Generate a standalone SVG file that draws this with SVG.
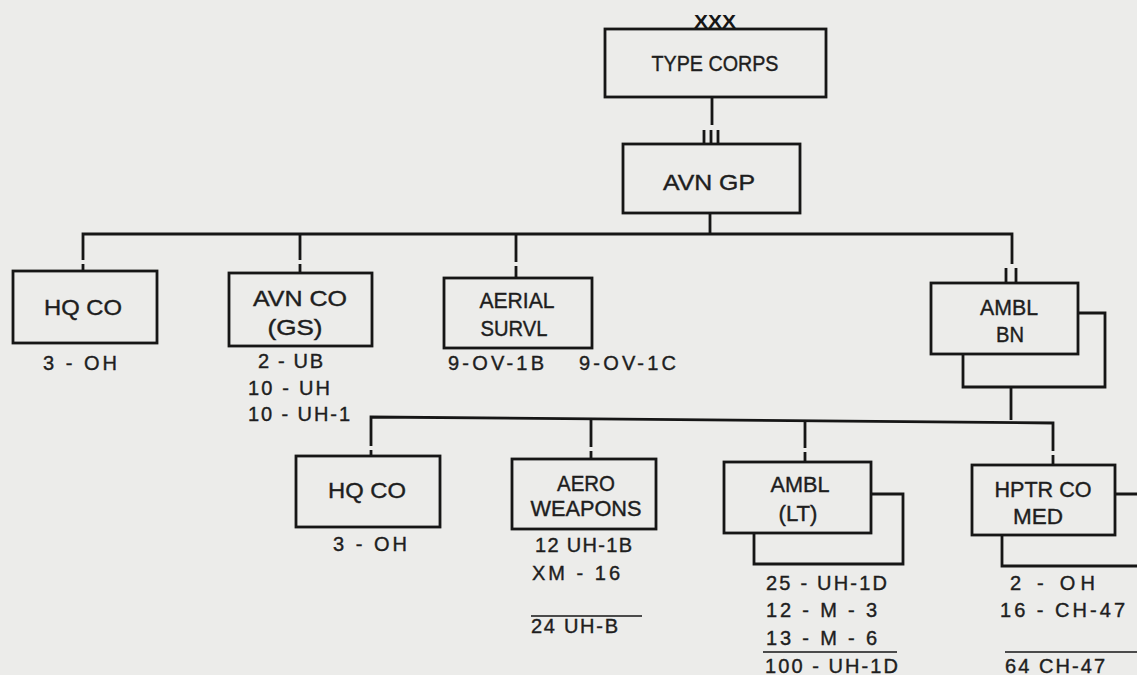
<svg xmlns="http://www.w3.org/2000/svg" width="1137" height="675" viewBox="0 0 1137 675">
<style>
.bg{fill:#ececea}
.box{fill:none;stroke:#161616;stroke-width:2.8}
.ln{fill:none;stroke:#161616;stroke-width:2.8}
.t{font-family:"Liberation Sans",Arial,sans-serif;font-size:22px;fill:#1e1e1e;stroke:#1e1e1e;stroke-width:0.4;text-anchor:middle}
.d{font-family:"Liberation Sans",Arial,sans-serif;font-size:20px;fill:#1e1e1e;stroke:#1e1e1e;stroke-width:0.4}
.x{font-family:"Liberation Sans",Arial,sans-serif;font-size:18px;font-weight:bold;fill:#161616;text-anchor:middle}
</style>
<rect class="bg" x="0" y="0" width="1137" height="675"/>
<g id="connectors">
<path class="ln" d="M712 97 V125"/>
<path class="ln" d="M704 130 V144 M711 130 V144 M718 130 V144"/>
<path class="ln" d="M710 213 V234"/>
<path class="ln" d="M83 260 V234 H1012 V264"/>
<path class="ln" d="M1006 268 V283 M1016 268 V283"/>
<path class="ln" d="M83 264 V271"/>
<path class="ln" d="M300 234 V260 M300 264 V273"/>
<path class="ln" d="M516 234 V262 M516 266 V278"/>
<path class="ln" d="M1011 387 V420"/>
<path class="ln" d="M371 446 V417 L1053 423 V451"/>
<path class="ln" d="M371 450 V456"/>
<path class="ln" d="M591 420 V447 M591 451 V459"/>
<path class="ln" d="M805 422 V448 M805 452 V462"/>
<path class="ln" d="M1053 455 V465"/>
</g>
<g id="type-corps">
<text class="x" x="715" y="28" textLength="42" lengthAdjust="spacingAndGlyphs">XXX</text>
<rect class="box" x="605" y="29" width="221" height="68"/>
<text class="t" x="715" y="71" textLength="127" lengthAdjust="spacingAndGlyphs">TYPE CORPS</text>
</g>
<g id="avn-gp">
<rect class="box" x="623" y="144" width="177" height="69"/>
<text class="t" x="709" y="190" textLength="92" lengthAdjust="spacingAndGlyphs">AVN GP</text>
</g>
<g id="hq-co-1">
<rect class="box" x="13" y="271" width="144" height="72"/>
<text class="t" x="83" y="315" textLength="78" lengthAdjust="spacingAndGlyphs">HQ CO</text>
<text class="d" x="43" y="370" textLength="74">3 - OH</text>
</g>
<g id="avn-co-gs">
<rect class="box" x="229" y="273" width="143" height="73"/>
<text class="t" x="300" y="306" textLength="94" lengthAdjust="spacingAndGlyphs">AVN CO</text>
<text class="t" x="295" y="335" textLength="55" lengthAdjust="spacingAndGlyphs">(GS)</text>
<text class="d" x="258" y="368" textLength="65">2 - UB</text>
<text class="d" x="248" y="395" textLength="82">10 - UH</text>
<text class="d" x="248" y="421" textLength="102">10 - UH-1</text>
</g>
<g id="aerial-survl">
<rect class="box" x="444" y="278" width="148" height="70"/>
<text class="t" x="517" y="308" textLength="75" lengthAdjust="spacingAndGlyphs">AERIAL</text>
<text class="t" x="514" y="336" textLength="67" lengthAdjust="spacingAndGlyphs">SURVL</text>
<text class="d" x="448" y="370" textLength="96">9-OV-1B</text>
<text class="d" x="579" y="370" textLength="97">9-OV-1C</text>
</g>
<g id="ambl-bn">
<path class="box" d="M963 354 V387 H1105 V313 H1078"/>
<rect class="box" x="931" y="283" width="147" height="71"/>
<text class="t" x="1009" y="315" textLength="58" lengthAdjust="spacingAndGlyphs">AMBL</text>
<text class="t" x="1010" y="342" textLength="28" lengthAdjust="spacingAndGlyphs">BN</text>
</g>
<g id="hq-co-2">
<rect class="box" x="296" y="456" width="144" height="71"/>
<text class="t" x="367" y="498" textLength="78" lengthAdjust="spacingAndGlyphs">HQ CO</text>
<text class="d" x="333" y="551" textLength="74">3 - OH</text>
</g>
<g id="aero-weapons">
<rect class="box" x="512" y="459" width="144" height="70"/>
<text class="t" x="586" y="491" textLength="58" lengthAdjust="spacingAndGlyphs">AERO</text>
<text class="t" x="586" y="516" textLength="111" lengthAdjust="spacingAndGlyphs">WEAPONS</text>
<text class="d" x="535" y="552" textLength="97">12 UH-1B</text>
<text class="d" x="532" y="580" textLength="88">XM - 16</text>
<path class="ln" d="M531 616 H642" style="stroke-width:1.6"/>
<text class="d" x="531" y="633" textLength="87">24 UH-B</text>
</g>
<g id="ambl-lt">
<path class="box" d="M754 533 V564 H903 V494 H871"/>
<rect class="box" x="724" y="462" width="147" height="71"/>
<text class="t" x="800" y="492" textLength="59" lengthAdjust="spacingAndGlyphs">AMBL</text>
<text class="t" x="798" y="521" textLength="39" lengthAdjust="spacingAndGlyphs">(LT)</text>
<text class="d" x="766" y="590" textLength="121">25 - UH-1D</text>
<text class="d" x="766" y="617" textLength="111">12 - M - 3</text>
<text class="d" x="766" y="645" textLength="111">13 - M - 6</text>
<path class="ln" d="M763 652 H897" style="stroke-width:1.6"/>
<text class="d" x="765" y="673" textLength="133">100 - UH-1D</text>
</g>
<g id="hptr-co-med">
<path class="box" d="M1002 535 V566 H1140 M1115 494 H1140"/>
<rect class="box" x="972" y="465" width="143" height="70"/>
<text class="t" x="1043" y="497" textLength="97" lengthAdjust="spacingAndGlyphs">HPTR CO</text>
<text class="t" x="1038" y="524" textLength="50" lengthAdjust="spacingAndGlyphs">MED</text>
<text class="d" x="1010" y="590" textLength="85">2 - OH</text>
<text class="d" x="1000" y="617" textLength="125">16 - CH-47</text>
<path class="ln" d="M1005 652 H1137" style="stroke-width:1.6"/>
<text class="d" x="1005" y="673" textLength="100">64 CH-47</text>
</g>
</svg>
